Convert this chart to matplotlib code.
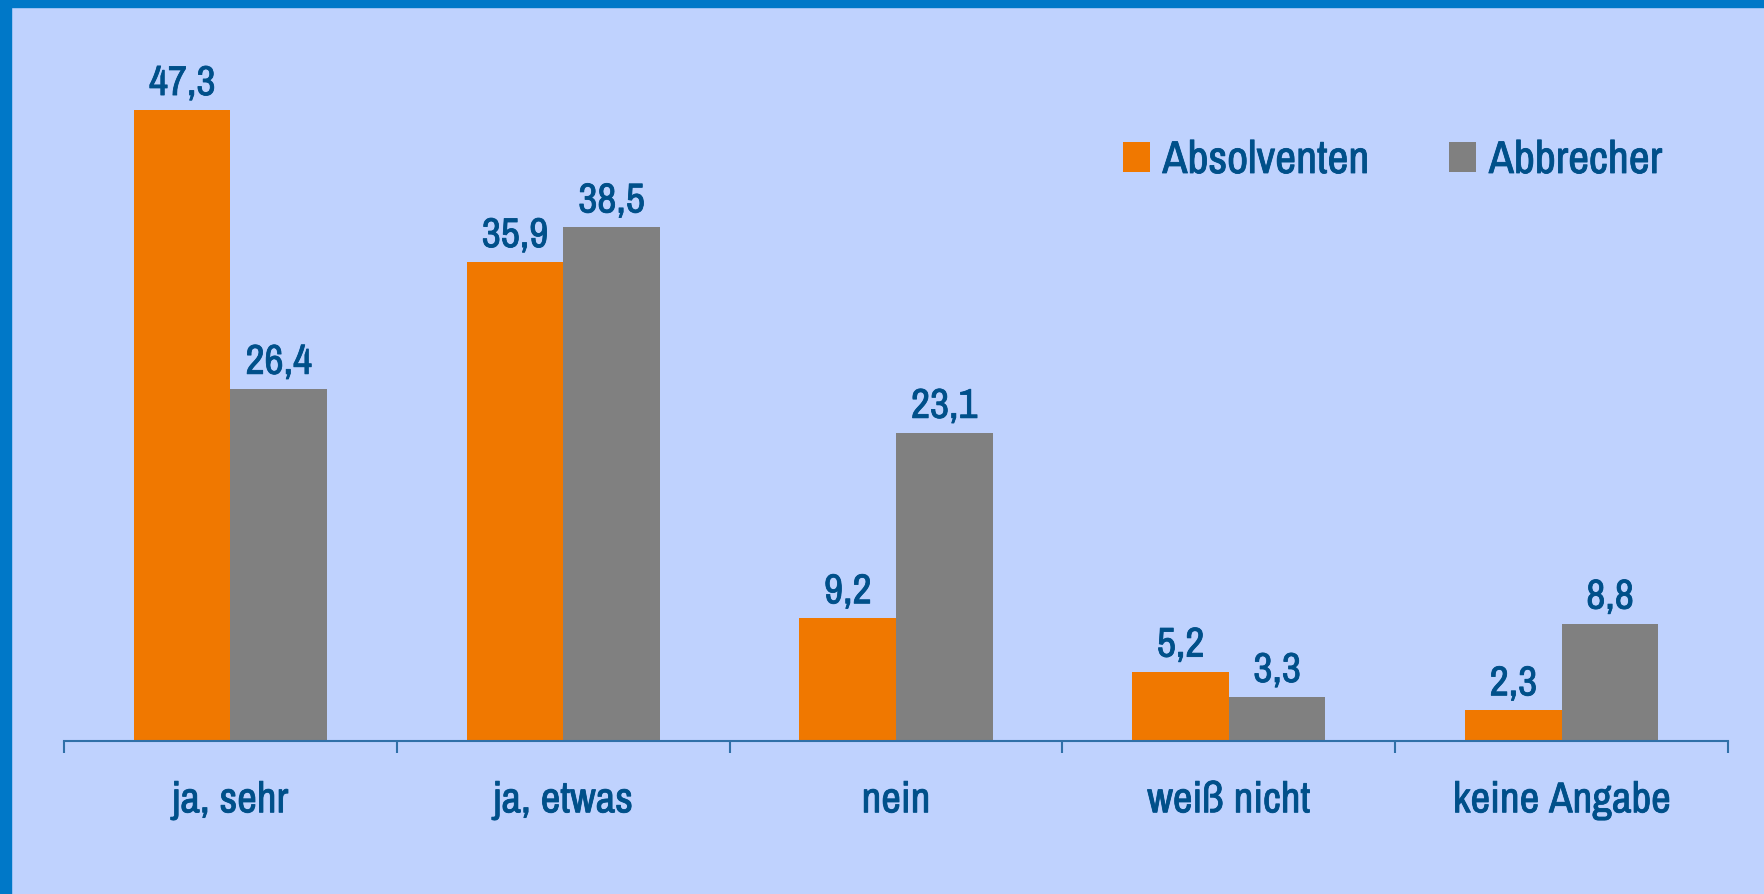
import matplotlib.pyplot as plt
import matplotlib.patheffects as pe
import numpy as np
from matplotlib.ticker import FixedLocator
from matplotlib import font_manager

# Daten
kategorien = ["ja, sehr", "ja, etwas", "nein", "weiß nicht", "keine Angabe"]
absolventen = [47.3, 35.9, 9.2, 5.2, 2.3]
abbrecher = [26.4, 38.5, 23.1, 3.3, 8.8]

blau_text = "#00508A"
hintergrund = "#BFD2FE"
rand = "#0078C8"

# schmale Schrift suchen, sonst Liberation Sans
vorhanden = {f.name for f in font_manager.fontManager.ttflist}
schmal = [n for n in sorted(vorhanden) if "Narrow" in n or "Condensed" in n]
familien = schmal[:1] + ["Liberation Sans", "DejaVu Sans"]
plt.rcParams['font.family'] = familien
groesse = 30 if schmal else 26
dick = [pe.withStroke(linewidth=0.6, foreground=blau_text)]

fig = plt.figure(figsize=(17.65, 8.94), dpi=100)
fig.patch.set_facecolor(hintergrund)

# blauer Rahmen oben und links
fig.patches.append(plt.Rectangle((0, 1 - 7 / 894), 1, 7 / 894, transform=fig.transFigure,
                                 color=rand, zorder=0))
fig.patches.append(plt.Rectangle((0, 0), 11 / 1765, 1, transform=fig.transFigure,
                                 color=rand, zorder=0))

ax = fig.add_axes([64 / 1765, 153 / 894, 1664 / 1765, 667 / 894])
ax.set_facecolor(hintergrund)

x = np.arange(len(kategorien))
b = 0.29
bars1 = ax.bar(x - b / 2, absolventen, b, color="#F07800", label="Absolventen")
bars2 = ax.bar(x + b / 2, abbrecher, b, color="#808080", label="Abbrecher")

for bars, werte in [(bars1, absolventen), (bars2, abbrecher)]:
    for r, v in zip(bars, werte):
        ax.annotate(f"{v:.1f}".replace(".", ","), (r.get_x() + r.get_width() / 2, v),
                    xytext=(0, 8), textcoords="offset pixels", ha="center", va="bottom",
                    fontsize=groesse, color=blau_text, path_effects=dick)

ax.set_xlim(-0.5, len(kategorien) - 0.5)
ax.set_ylim(0, 50)
ax.set_yticks([])
for s in ["top", "right", "left"]:
    ax.spines[s].set_visible(False)
ax.spines["bottom"].set_color("#3070A8")
ax.spines["bottom"].set_linewidth(1.5)

ax.set_xticks(x)
ax.set_xticklabels(kategorien, fontsize=groesse + 1, color=blau_text)
for t in ax.get_xticklabels():
    t.set_path_effects(dick)
ax.tick_params(axis="x", which="major", length=0, pad=29)
ax.xaxis.set_minor_locator(FixedLocator(np.arange(-0.5, len(kategorien), 1)))
ax.tick_params(axis="x", which="minor", length=8.6, width=1.5, color="#3070A8")

leg = ax.legend(loc="upper left", bbox_to_anchor=(1123 / 1765, 1 - 139 / 894),
                bbox_transform=fig.transFigure, ncol=2, frameon=False, borderpad=0,
                borderaxespad=0, prop={"size": groesse + 3},
                handlelength=0.58, handleheight=0.64, handletextpad=0.28,
                columnspacing=1.75)
for t in leg.get_texts():
    t.set_color(blau_text)
    t.set_path_effects(dick)

fig.savefig("out.png", dpi=100, facecolor=hintergrund)
